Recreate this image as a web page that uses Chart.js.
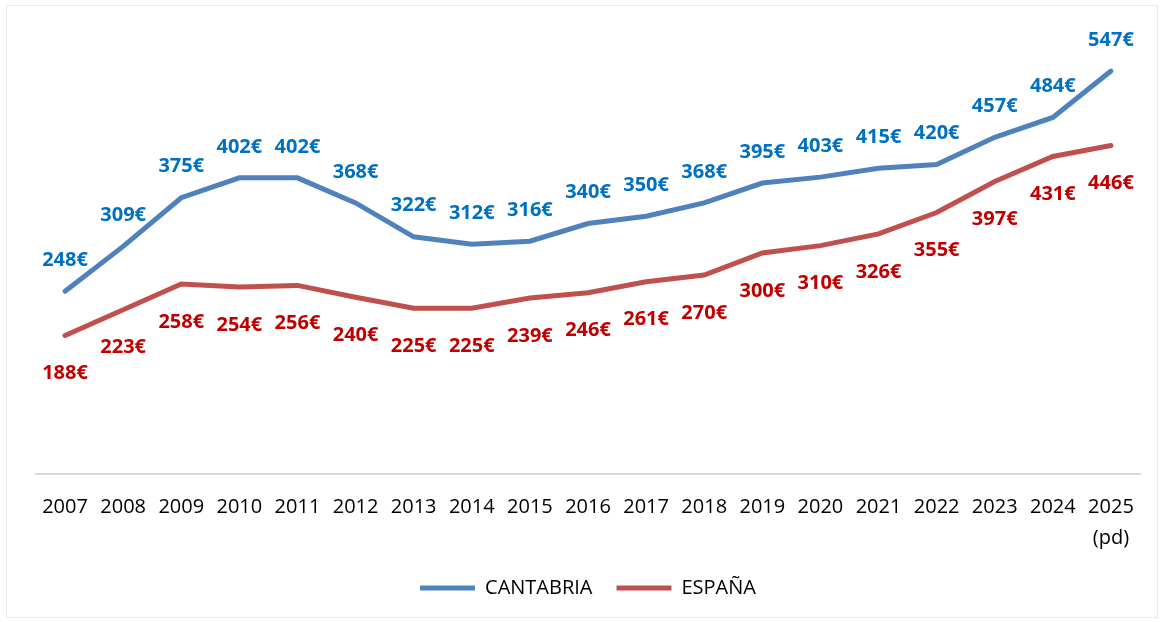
<!DOCTYPE html>
<html>
<head>
<meta charset="utf-8">
<script src="https://cdn.jsdelivr.net/npm/chart.js@4"></script>
<style>
  body { margin: 0; background: #fff; }
  #wrap { width: 1164px; height: 622px; position: relative; }
</style>
</head>
<body>
<div id="wrap"><canvas id="line-chart"></canvas></div>
<script>
// data
const years = ['2007', '2008', '2009', '2010', '2011', '2012', '2013', '2014', '2015', '2016',
  '2017', '2018', '2019', '2020', '2021', '2022', '2023', '2024', ['2025', '(pd)']];
const cantabria = [248, 309, 375, 402, 402, 368, 322, 312, 316, 340, 350, 368, 395, 403, 415, 420, 457, 484, 547];
const espana = [188, 223, 258, 254, 256, 240, 225, 225, 239, 246, 261, 270, 300, 310, 326, 355, 397, 431, 446];

// value labels: blue above, red below
const valueLabels = {
  id: 'valueLabels',
  afterDatasetsDraw(chart) {
    const c = chart.ctx;
    c.save();
    c.font = 'bold 20px "Open Sans"';
    c.textAlign = 'center';
    c.textBaseline = 'middle';
    chart.data.datasets.forEach((ds, i) => {
      const meta = chart.getDatasetMeta(i);
      meta.data.forEach((pt, j) => {
        c.fillStyle = ds.labelColor;
        c.fillText(ds.data[j] + '€', pt.x, pt.y + ds.labelOffset);
      });
    });
    c.restore();
  }
};

// faint frame round the picture
const frame = {
  id: 'frame',
  beforeDraw(chart) {
    const c = chart.ctx;
    c.save();
    c.strokeStyle = '#ececec';
    c.lineWidth = 1;
    c.strokeRect(6.5, 5.5, chart.width - 13, chart.height - 10);
    c.restore();
  }
};

const ctx = document.getElementById('line-chart');
const chart = new Chart(ctx, {
  type: 'line',
  data: {
    labels: years,
    datasets: [{
      label: 'CANTABRIA',
      data: cantabria,
      borderColor: '#4F81BD',
      backgroundColor: '#4F81BD',
      borderWidth: 5,
      borderCapStyle: 'round',
      pointRadius: 0,
      tension: 0,
      labelColor: '#0070C0',
      labelOffset: -31
    }, {
      label: 'ESPAÑA',
      data: espana,
      borderColor: '#C0504D',
      backgroundColor: '#C0504D',
      borderWidth: 5,
      borderCapStyle: 'round',
      pointRadius: 0,
      tension: 0,
      labelColor: '#C00000',
      labelOffset: 38
    }]
  },
  plugins: [frame, valueLabels],
  options: {
    responsive: true,
    maintainAspectRatio: false,
    animation: false,
    layout: {
      padding: { left: 36, right: 24, top: 32, bottom: 14 }
    },
    plugins: {
      legend: {
        display: true,
        position: 'bottom',
        labels: {
          usePointStyle: true,
          pointStyle: 'line',
          pointStyleWidth: 55,
          color: '#000',
          padding: 24,
          font: { family: '"Open Sans"', size: 20 }
        }
      },
      tooltip: { enabled: false }
    },
    scales: {
      y: {
        display: false,
        min: 0,
        max: 600
      },
      x: {
        offset: true,
        // let the two-line tick block overlap the legend gap a bit
        afterFit(scale) { scale.height -= 18; },
        grid: { display: false, drawTicks: false },
        border: { display: true, color: '#D9D9D9', width: 2 },
        ticks: {
          color: '#000',
          padding: 18,
          maxRotation: 0,
          autoSkip: false,
          font: { family: '"Open Sans"', size: 20, lineHeight: 1.55 }
        }
      }
    }
  }
});
</script>
</body>
</html>
